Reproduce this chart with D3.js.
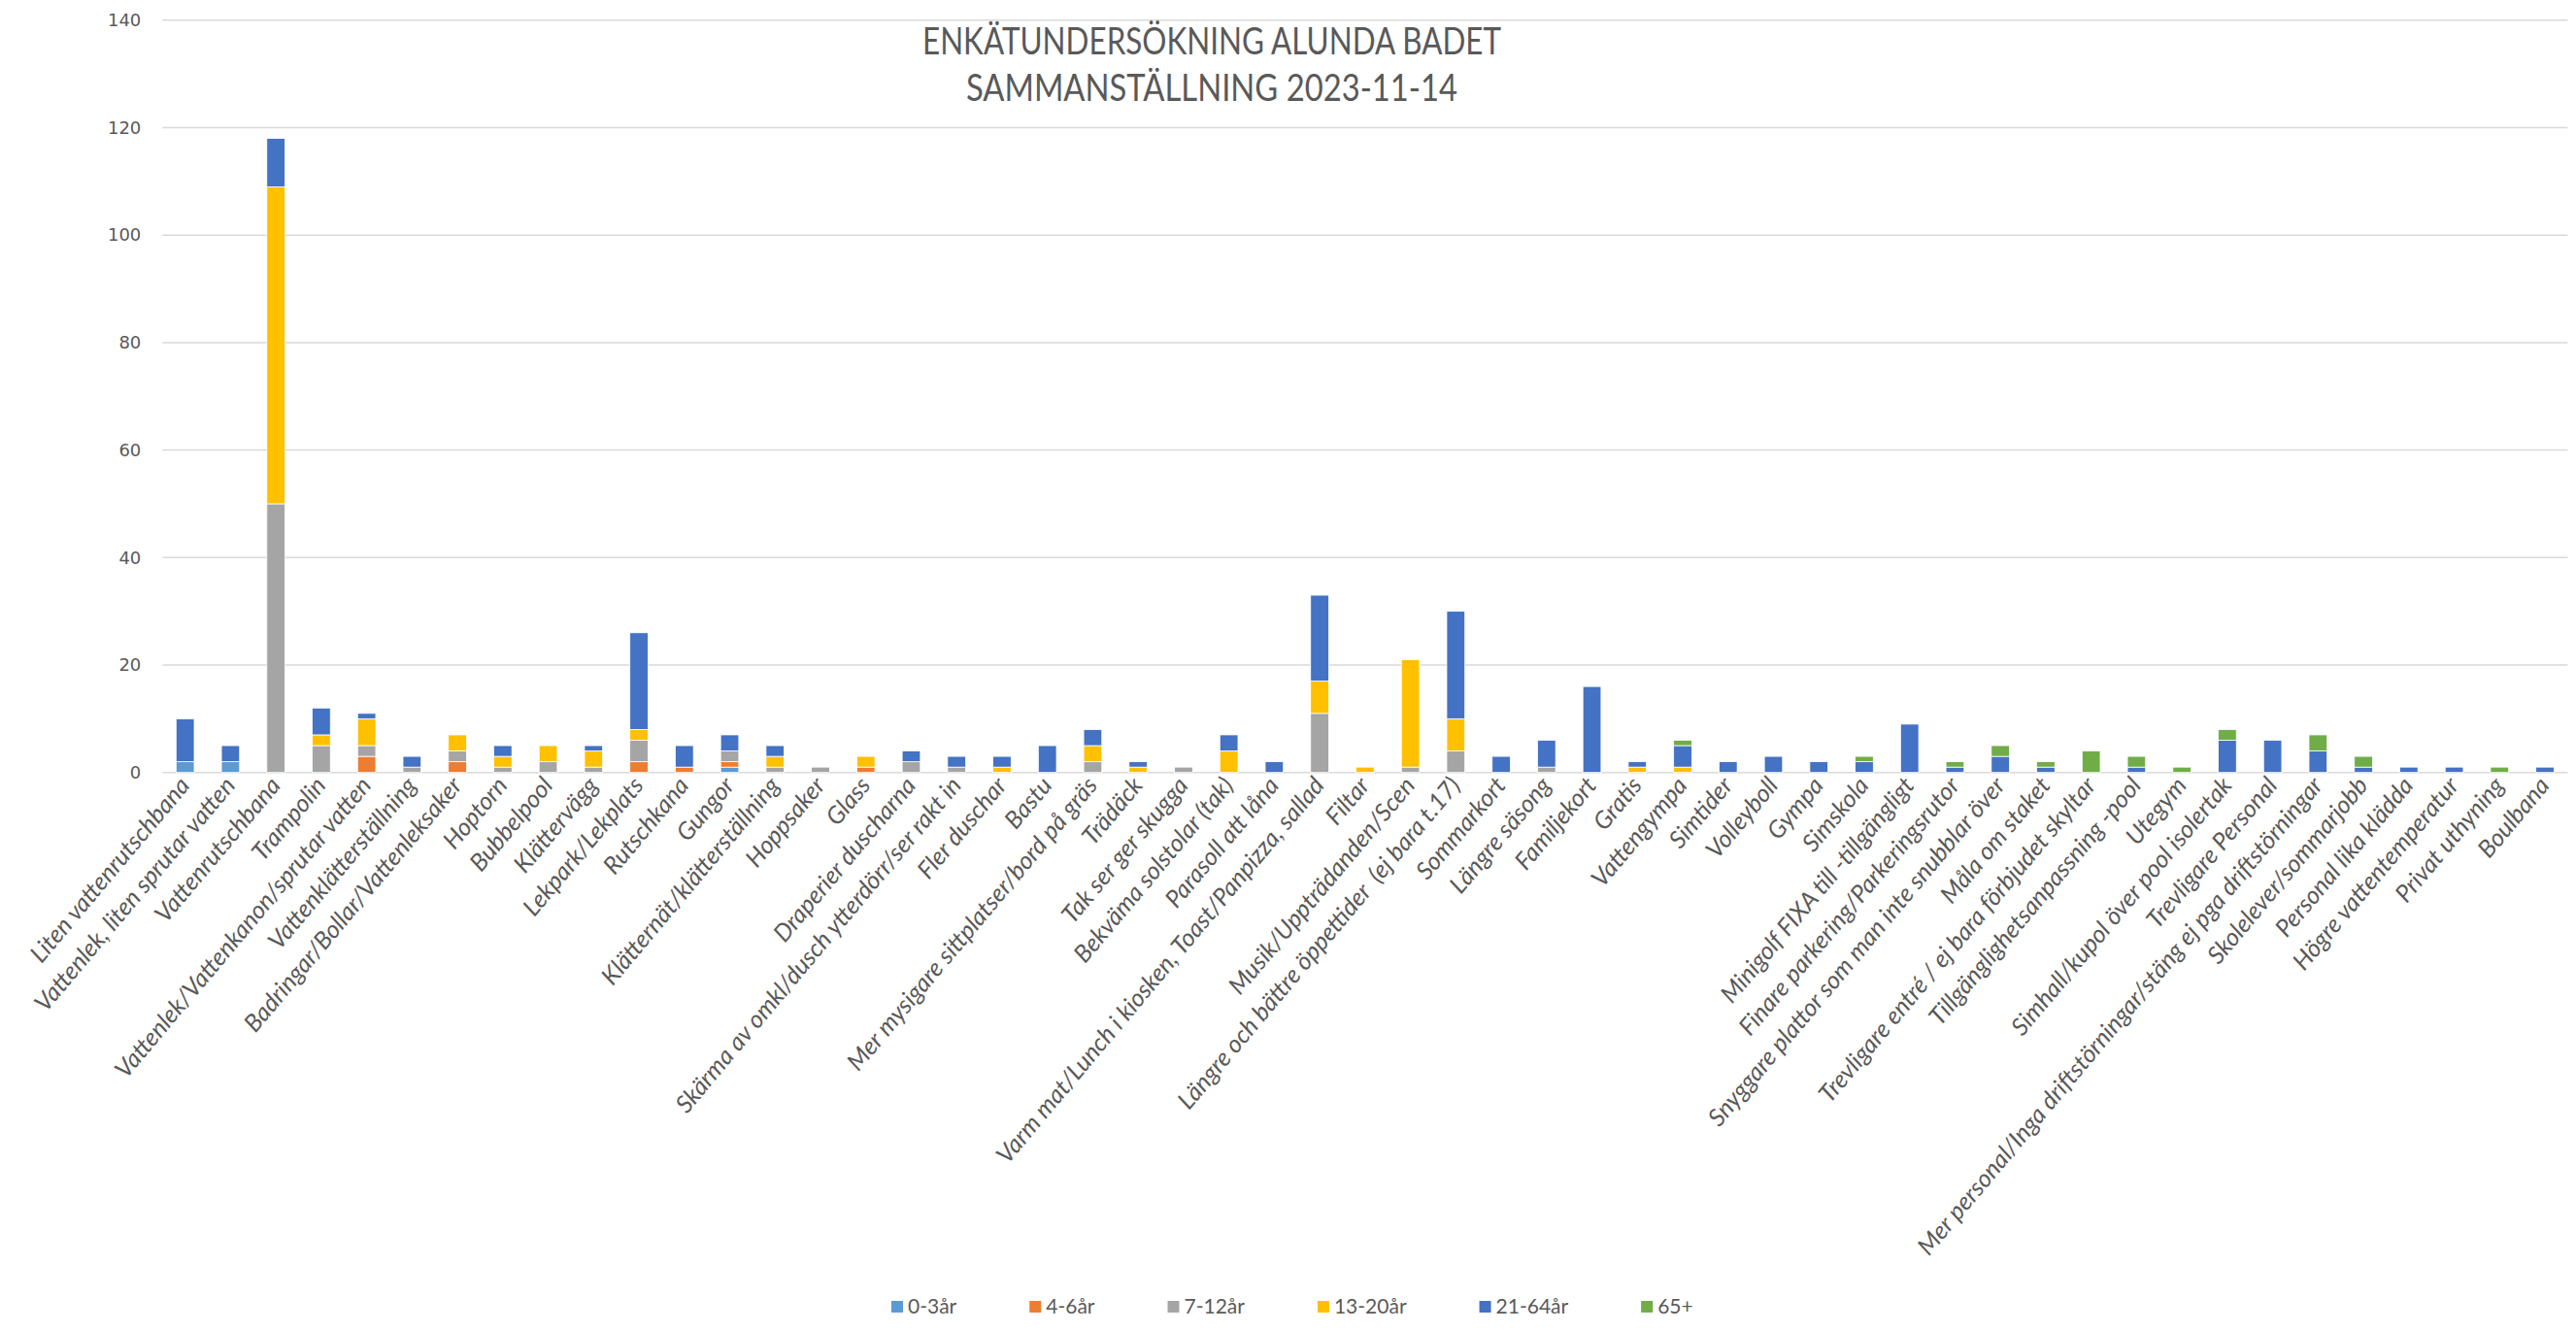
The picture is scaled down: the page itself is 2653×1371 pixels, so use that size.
<!DOCTYPE html>
<html>
<head>
<meta charset="utf-8">
<script src="https://cdn.jsdelivr.net/npm/d3@7"></script>
<style>
  body { margin: 0; background: #fff; }
  svg { display: block; }
  .x-label { white-space: pre; }
</style>
</head>
<body>
<svg></svg>
<script>
// kategorier (x-axeln)
var categories = [
  "Liten vattenrutschbana", "Vattenlek, liten sprutar vatten", "Vattenrutschbana", "Trampolin",
  "Vattenlek/Vattenkanon/sprutar vatten", "Vattenklätterställning", "Badringar/Bollar/Vattenleksaker",
  "Hoptorn", "Bubbelpool", "Klättervägg", "Lekpark/Lekplats", "Rutschkana", "Gungor",
  "Klätternät/klätterställning", "Hoppsaker", "Glass", "Draperier duscharna",
  "Skärma av omkl/dusch ytterdörr/ser rakt in", "Fler duschar", "Bastu",
  "Mer mysigare sittplatser/bord på gräs", "Trädäck", "Tak ser ger skugga", "Bekväma solstolar (tak)",
  "Parasoll att låna", "Varm mat/Lunch i kiosken, Toast/Panpizza, sallad", "Filtar",
  "Musik/Uppträdanden/Scen", "Längre och bättre öppettider  (ej bara t.17)", "Sommarkort",
  "Längre säsong", "Familjekort", "Gratis", "Vattengympa", "Simtider", "Volleyboll", "Gympa",
  "Simskola", "Minigolf FIXA till -tillgängligt", "Finare parkering/Parkeringsrutor",
  "Snyggare plattor som man inte snubblar över", "Måla om staket",
  "Trevligare entré / ej bara förbjudet skyltar", "Tillgänglighetsanpassning -pool", "Utegym",
  "Simhall/kupol över pool isolertak", "Trevligare Personal",
  "Mer personal/Inga driftstörningar/stäng ej pga driftstörningar", "Skolelever/sommarjobb",
  "Personal lika klädda", "Högre vattentemperatur", "Privat uthyning", "Boulbana"
];

// en array per åldersgrupp, samma ordning som categories
var age0_3   = [2,2,0,0,0,0,0,0,0,0,0,0,1,0,0,0,0,0,0,0,0,0,0,0,0,0,0,0,0,0,0,0,0,0,0,0,0,0,0,0,0,0,0,0,0,0,0,0,0,0,0,0,0];
var age4_6   = [0,0,0,0,3,0,2,0,0,0,2,1,1,0,0,1,0,0,0,0,0,0,0,0,0,0,0,0,0,0,0,0,0,0,0,0,0,0,0,0,0,0,0,0,0,0,0,0,0,0,0,0,0];
var age7_12  = [0,0,50,5,2,1,2,1,2,1,4,0,2,1,1,0,2,1,0,0,2,0,1,0,0,11,0,1,4,0,1,0,0,0,0,0,0,0,0,0,0,0,0,0,0,0,0,0,0,0,0,0,0];
var age13_20 = [0,0,59,2,5,0,3,2,3,3,2,0,0,2,0,2,0,0,1,0,3,1,0,4,0,6,1,20,6,0,0,0,1,1,0,0,0,0,0,0,0,0,0,0,0,0,0,0,0,0,0,0,0];
var age21_64 = [8,3,9,5,1,2,0,2,0,1,18,4,3,2,0,0,2,2,2,5,3,1,0,3,2,16,0,0,20,3,5,16,1,4,2,3,2,2,9,1,3,1,0,1,0,6,6,4,1,1,1,0,1];
var age65    = [0,0,0,0,0,0,0,0,0,0,0,0,0,0,0,0,0,0,0,0,0,0,0,0,0,0,0,0,0,0,0,0,0,1,0,0,0,1,0,1,2,1,4,2,1,2,0,3,2,0,0,1,0];

var seriesNames = ["0-3år", "4-6år", "7-12år", "13-20år", "21-64år", "65+"];
var seriesColors = ["#5b9bd5", "#ed7d31", "#a5a5a5", "#ffc000", "#4472c4", "#70ad47"];
var yTicks = [0, 20, 40, 60, 80, 100, 120, 140];
var titleLines = ["ENKÄTUNDERSÖKNING ALUNDA BADET", "SAMMANSTÄLLNING 2023-11-14"];

var width = 2653, height = 1371;
var margin = {top: 20.8, right: 8.6, bottom: 575.3, left: 167.3};
var plotW = width - margin.left - margin.right;
var plotH = height - margin.top - margin.bottom;

var svg = d3.select("svg")
  .attr("width", width)
  .attr("height", height);

// bygg tabell för stacken
var allSeries = [age0_3, age4_6, age7_12, age13_20, age21_64, age65];
var rows = categories.map(function(c, i) {
  var r = {cat: c};
  seriesNames.forEach(function(s, j) { r[s] = allSeries[j][i]; });
  return r;
});
var stacked = d3.stack().keys(seriesNames)(rows);

var x = d3.scaleBand()
  .domain(categories)
  .range([0, plotW])
  .paddingInner(0.6)
  .paddingOuter(0.3);

var y = d3.scaleLinear()
  .domain([0, 140])
  .range([plotH, 0]);

var g = svg.append("g")
  .attr("transform", "translate(" + margin.left + "," + margin.top + ")");

// rutnät
g.append("g")
  .selectAll("line")
  .data(yTicks)
  .enter()
  .append("line")
  .attr("x1", 0)
  .attr("x2", plotW)
  .attr("y1", function(d) { return y(d); })
  .attr("y2", function(d) { return y(d); })
  .attr("stroke", "#d9d9d9")
  .attr("stroke-width", 1.5);

var yAxis = d3.axisLeft(y)
  .tickValues(yTicks)
  .tickSize(0)
  .tickPadding(22);

g.append("g")
  .attr("class", "y-axis")
  .call(yAxis)
  .call(function(a) { a.select(".domain").remove(); })
  .selectAll("text")
  .attr("fill", "#595959")
  .attr("font-family", "DejaVu Sans")
  .attr("font-size", 18);

// staplar
g.append("g")
  .selectAll("g")
  .data(stacked)
  .enter()
  .append("g")
  .attr("fill", function(d, i) { return seriesColors[i]; })
  .selectAll("rect")
  .data(function(d) { return d.filter(function(v) { return v[1] - v[0] > 0; }); })
  .enter()
  .append("rect")
  .attr("x", function(d) { return x(d.data.cat); })
  .attr("y", function(d) { return y(d[1]); })
  .attr("width", x.bandwidth())
  .attr("height", function(d) { return y(d[0]) - y(d[1]); })
  .attr("stroke", "#ffffff")
  .attr("stroke-width", 0.8);

// x-etiketter, lutade
g.append("g")
  .selectAll("text")
  .data(categories)
  .enter()
  .append("text")
  .attr("class", "x-label")
  .attr("transform", function(d) {
    return "translate(" + (x(d) + x.bandwidth() / 2 + 6) + "," + (plotH + 14) + ") rotate(-50)";
  })
  .attr("text-anchor", "end")
  .attr("font-family", "Lato")
  .attr("font-style", "italic")
  .attr("font-size", 25)
  .attr("fill", "#595959")
  .text(function(d) { return d; });

// rubrik, ihoptryckt för att likna Calibri
var titleWidths = [596, 506];
svg.append("g")
  .selectAll("text")
  .data(titleLines)
  .enter()
  .append("text")
  .attr("x", 1248)
  .attr("y", function(d, i) { return 56 + i * 48; })
  .attr("text-anchor", "middle")
  .attr("font-family", "Lato")
  .attr("font-size", 38)
  .attr("fill", "#595959")
  .attr("textLength", function(d, i) { return titleWidths[i]; })
  .attr("lengthAdjust", "spacingAndGlyphs")
  .text(function(d) { return d; });

// förklaring
var legend = svg.append("g")
  .attr("transform", "translate(0,1346)");

var lx = 918;
seriesNames.forEach(function(s, i) {
  var item = legend.append("g").attr("transform", "translate(" + lx + ",0)");
  item.append("rect")
    .attr("x", 0)
    .attr("y", -6)
    .attr("width", 12)
    .attr("height", 12)
    .attr("fill", seriesColors[i]);
  var t = item.append("text")
    .attr("x", 17)
    .attr("y", 7)
    .attr("font-family", "Lato")
    .attr("font-size", 21)
    .attr("fill", "#595959")
    .text(s);
  lx += 17 + t.node().getComputedTextLength() + 75;
});
</script>
</body>
</html>
